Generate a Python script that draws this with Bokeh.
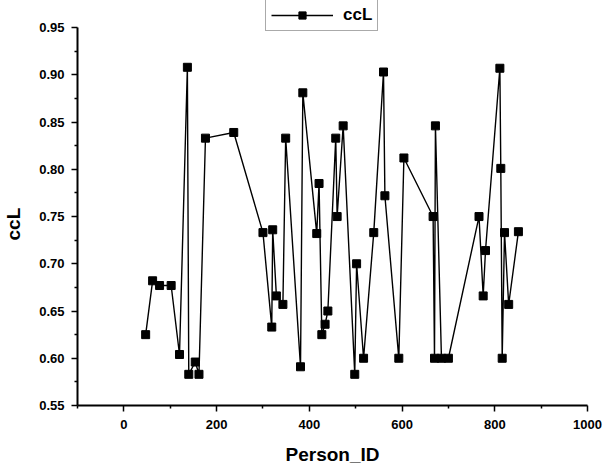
from bokeh.plotting import figure
from bokeh.models import Range1d, FixedTicker, PrintfTickFormatter, Legend, LegendItem
from bokeh.embed import file_html
from bokeh.resources import INLINE

person_id = [47, 62, 77, 102, 120, 137, 140, 154, 162, 176,
             237, 300, 319, 321, 329, 343, 349, 381, 386, 416,
             421, 427, 434, 440, 457, 460, 473, 498, 502, 517,
             539, 560, 563, 593, 604, 667, 670, 672, 685, 700,
             766, 775, 780, 811, 813, 816, 821, 830, 851]
ccl = [0.625, 0.682, 0.677, 0.677, 0.604, 0.908, 0.583, 0.596, 0.583, 0.833,
       0.839, 0.733, 0.633, 0.736, 0.666, 0.657, 0.833, 0.591, 0.881, 0.732,
       0.785, 0.625, 0.636, 0.650, 0.833, 0.750, 0.846, 0.583, 0.700, 0.600,
       0.733, 0.903, 0.772, 0.600, 0.812, 0.750, 0.600, 0.846, 0.600, 0.600,
       0.750, 0.666, 0.714, 0.907, 0.801, 0.600, 0.733, 0.657, 0.734]

x_ticks = [0, 200, 400, 600, 800, 1000]
x_minor = [-100, 100, 300, 500, 700, 900]
y_ticks = [0.55, 0.60, 0.65, 0.70, 0.75, 0.80, 0.85, 0.90, 0.95]
y_minor = [0.575, 0.625, 0.675, 0.725, 0.775, 0.825, 0.875, 0.925]

FONT = "Liberation Sans"

# frame extends to the top edge so the legend (which overlaps the top) stays visible
p = figure(width=603, height=467, output_backend="svg", toolbar_location=None,
           x_range=Range1d(-100, 1000), y_range=Range1d(0.55, 0.9787),
           min_border_left=76, min_border_right=16, min_border_top=0, min_border_bottom=59)
p.outline_line_color = None
p.xgrid.visible = False
p.ygrid.visible = False
p.background_fill_color = "white"
p.border_fill_color = "white"

ln = p.line(person_id, ccl, line_color="black", line_width=1.4)
sc = p.scatter(person_id, ccl, marker="square", size=8, fill_color="black", line_color="black")

p.xaxis.ticker = FixedTicker(ticks=x_ticks, minor_ticks=x_minor)
p.yaxis.ticker = FixedTicker(ticks=y_ticks, minor_ticks=y_minor)
p.yaxis.formatter = PrintfTickFormatter(format="%.2f")
p.yaxis.bounds = (0.55, 0.95)

for ax in (p.xaxis[0], p.yaxis[0]):
    ax.axis_line_width = 2
    ax.axis_line_color = "black"
    ax.major_tick_line_width = 1.5
    ax.minor_tick_line_width = 1.5
    ax.major_tick_out = 6
    ax.major_tick_in = 0
    ax.minor_tick_out = 3
    ax.minor_tick_in = 0
    ax.major_label_text_font = FONT
    ax.major_label_text_font_style = "bold"
    ax.major_label_text_font_size = "13px"
    ax.major_label_text_color = "black"
    ax.axis_label_text_font = FONT
    ax.axis_label_text_font_style = "bold"
    ax.axis_label_text_font_size = "19px"
    ax.axis_label_text_color = "black"

p.xaxis.axis_label = "Person_ID"
p.yaxis.axis_label = "ccL" + "\u00a0" * 8
p.xaxis.major_label_standoff = 8
p.xaxis.axis_label_standoff = 12
p.yaxis.major_label_standoff = 7
p.yaxis.axis_label_standoff = 12

legend = Legend(items=[LegendItem(label="ccL", renderers=[ln, sc])],
                location=(188, 374), glyph_width=62, glyph_height=18,
                label_height=18, label_standoff=10, padding=5, margin=0, spacing=0,
                label_text_font=FONT, label_text_font_style="bold",
                label_text_font_size="17px", label_text_color="black",
                border_line_color="#555555", border_line_width=1,
                background_fill_alpha=1.0)
p.add_layout(legend, "center")

open("out.html", "w").write(file_html(p, INLINE))
